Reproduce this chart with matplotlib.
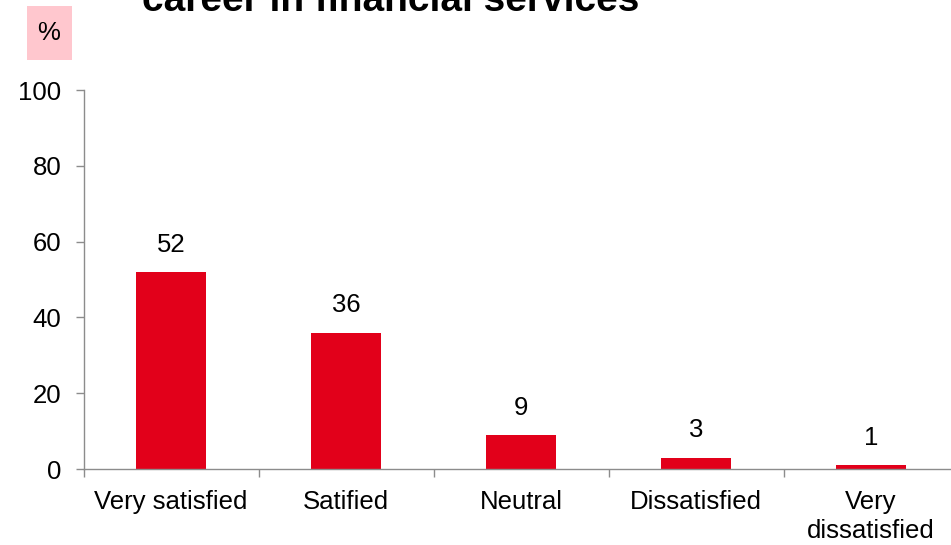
import matplotlib
matplotlib.use("Agg")
import matplotlib.pyplot as plt
from matplotlib.patches import Rectangle

# ------------------------------------------------------------
# DATA
# ------------------------------------------------------------
categories = ["Very satisfied", "Satified", "Neutral", "Dissatisfied", "Very\ndissatisfied"]
values = [52, 36, 9, 3, 1]
y_ticks = [0, 20, 40, 60, 80, 100]

BAR_COLOR = "#E2001A"
AXIS_COLOR = "#8C8C8C"
FONT = ["Liberation Sans", "DejaVu Sans"]
FS = 18.5

plt.rcParams["font.family"] = FONT

fig = plt.figure(figsize=(9.51, 5.45), dpi=100)
ax = fig.add_axes([0.088, 0.1394, 0.92, 0.6954])

x = list(range(len(categories)))
ax.bar(x, values, width=0.4, color=BAR_COLOR, zorder=2)

for xi, v in zip(x, values):
    ax.annotate(str(v), (xi, v), xytext=(0, 11), textcoords="offset points",
                ha="center", va="bottom", fontsize=FS, color="black")

ax.set_xlim(-0.5, len(categories) - 0.5)
ax.set_ylim(0, 100)
ax.set_yticks(y_ticks)
ax.tick_params(axis="y", labelsize=FS, length=6, color=AXIS_COLOR, width=1, pad=10)

# category labels centred, ticks on the boundaries
ax.set_xticks(x)
ax.set_xticklabels(categories, fontsize=FS, linespacing=1.25)
ax.tick_params(axis="x", length=0, pad=15)
ax.set_xticks([i - 0.5 for i in range(len(categories) + 1)], minor=True)
ax.tick_params(axis="x", which="minor", length=6, color=AXIS_COLOR, width=1)

for side in ["top", "right"]:
    ax.spines[side].set_visible(False)
for side in ["left", "bottom"]:
    ax.spines[side].set_color(AXIS_COLOR)
    ax.spines[side].set_linewidth(1)

# title (only the last line sits inside the canvas)
fig.text(0.411, 0.979, "career in financial services", ha="center", va="baseline",
         fontsize=28, fontweight="bold", color="black")

# unit badge
fig.patches.append(Rectangle((27 / 951, 1 - 60 / 545), 45 / 951, 54 / 545,
                             transform=fig.transFigure, facecolor="#FFC7CE",
                             edgecolor="none"))
fig.text(49 / 951, 1 - 33 / 545, "%", ha="center", va="center", fontsize=FS)

fig.savefig("out.png", dpi=100)
